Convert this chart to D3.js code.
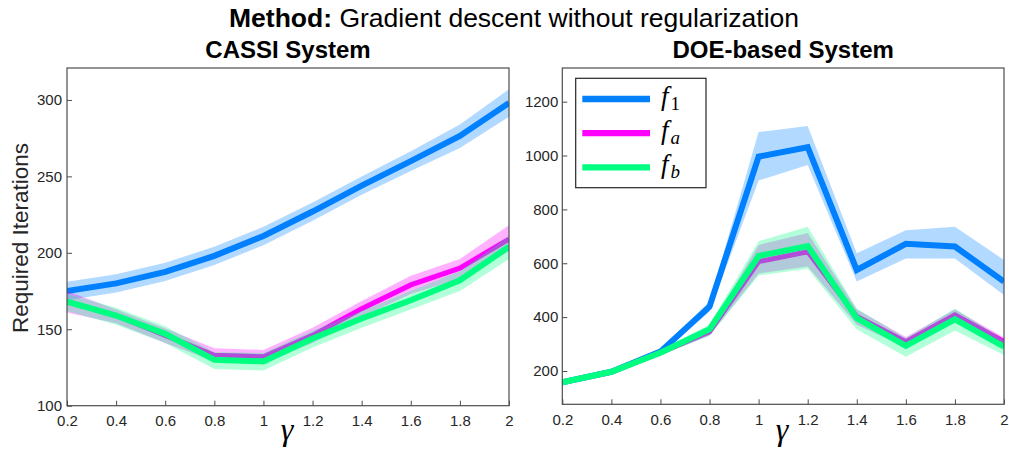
<!DOCTYPE html>
<html>
<head>
<meta charset="utf-8">
<script src="https://cdn.jsdelivr.net/npm/d3@7"></script>
<style>
  html, body { margin: 0; padding: 0; background: #fff; }
  svg { display: block; }
  text { font-family: "Liberation Sans", Arial, sans-serif; }
</style>
</head>
<body>
<svg id="chart" width="1009" height="449"></svg>
<script>
// γ values shared by both panels
const gammaValues = [0.2, 0.4, 0.6, 0.8, 1.0, 1.2, 1.4, 1.6, 1.8, 2.0];
const xTickLabels = ["0.2", "0.4", "0.6", "0.8", "1", "1.2", "1.4", "1.6", "1.8", "2"];

// CASSI system: mean iterations and min/max envelope
const cassiF1Mean = [175, 180, 187.5, 198, 211, 227, 244, 260, 276.5, 298];
const cassiF1Low  = [169, 174, 181.5, 192, 205, 221, 238, 253.5, 268.5, 289];
const cassiF1High = [181, 186, 193.5, 204, 217, 233, 250, 266.5, 284, 307];
const cassiFaMean = [168, 159, 146, 133, 132, 146, 163.5, 179, 190, 209];
const cassiFaLow  = [161, 154, 141, 129, 128, 141, 158, 173, 183, 201];
const cassiFaHigh = [175, 163, 150.5, 137.5, 136.5, 151, 168.5, 185, 196, 218];
const cassiFbMean = [168, 159, 147, 130, 129, 144, 157, 169, 182, 204];
const cassiFbLow  = [162, 153, 141, 124, 123, 138, 151, 163, 175, 196];
const cassiFbHigh = [173, 164, 152, 135, 134.5, 149, 162, 175, 188, 211];
const cassiYTicks = [100, 150, 200, 250, 300];

// DOE-based system
const doeF1Mean = [158, 197, 272, 439, 996, 1031, 575, 672, 662, 532];
const doeF1Low  = [148, 187, 262, 420, 907, 965, 532, 618, 618, 482];
const doeF1High = [168, 207, 282, 458, 1087, 1110, 637, 723, 736, 612];
const doeFaMean = [158, 197, 268, 346, 606, 643, 402, 309, 408, 309];
const doeFaLow  = [150, 189, 258, 332, 562, 588, 372, 288, 382, 290];
const doeFaHigh = [166, 205, 278, 360, 668, 712, 428, 326, 428, 324];
const doeFbMean = [158, 197, 268, 355, 627, 664, 396, 293, 392, 290];
const doeFbLow  = [150, 189, 258, 330, 555, 580, 355, 253, 350, 259];
const doeFbHigh = [166, 205, 278, 372, 682, 736, 432, 322, 432, 315];
const doeYTicks = [200, 400, 600, 800, 1000, 1200];

const seriesNames = ["f1", "fa", "fb"];
const seriesColors = { f1: "#0080ff", fa: "#ff00ff", fb: "#00ff80" };
const seriesWidths = { f1: 6, fa: 5, fb: 6 };

const svg = d3.select("#chart");
const axisColor = "#4d4d4d";
const tickTextColor = "#262626";

// Figure title
const title = svg.append("text")
  .attr("x", 514).attr("y", 27)
  .attr("text-anchor", "middle")
  .style("font-size", "26.5px")
  .attr("fill", "#000");
title.append("tspan").style("font-weight", "bold").text("Method:");
title.append("tspan").text(" Gradient descent without regularization");

function drawPanel(cfg) {
  const { left, right, top, bottom, yDomain, yTicks, series, name, clipId, yPad } = cfg;
  const x = d3.scaleLinear().domain([0.2, 2]).range([left, right]);
  const y = d3.scaleLinear().domain(yDomain).range([bottom, top]);
  const g = svg.append("g");

  g.append("clipPath").attr("id", clipId)
    .append("rect").attr("x", left).attr("y", top)
    .attr("width", right - left).attr("height", bottom - top);

  const plot = g.append("g").attr("clip-path", `url(#${clipId})`);

  const area = d3.area()
    .x(d => x(d.g)).y0(d => y(d.lo)).y1(d => y(d.hi));
  const line = d3.line().x(d => x(d.g)).y(d => y(d.m));

  series.forEach(s => {
    const pts = gammaValues.map((gv, i) => ({ g: gv, m: s.mean[i], lo: s.low[i], hi: s.high[i] }));
    plot.append("path").datum(pts)
      .attr("d", area)
      .attr("fill", seriesColors[s.key])
      .attr("fill-opacity", 0.3)
      .attr("stroke", "none");
    plot.append("path").datum(pts)
      .attr("d", line)
      .attr("fill", "none")
      .attr("stroke", seriesColors[s.key])
      .attr("stroke-width", seriesWidths[s.key]);
  });

  // Axes (ticks point inward)
  const xAxis = d3.axisBottom(x).tickValues(gammaValues)
    .tickFormat((d, i) => xTickLabels[i]).tickSize(-5).tickPadding(10);
  const gx = g.append("g").attr("transform", `translate(0,${bottom})`).call(xAxis);
  const yAxis = d3.axisLeft(y).tickValues(yTicks).tickFormat(d3.format("d"))
    .tickSize(-5).tickPadding(yPad);
  const gy = g.append("g").attr("transform", `translate(${left},0)`).call(yAxis);
  [gx, gy].forEach(a => {
    a.select(".domain").remove();
    a.selectAll(".tick line").attr("stroke", axisColor);
    a.selectAll(".tick text")
      .attr("fill", tickTextColor)
      .style("font-size", "15px")
      .style("font-family", "'Liberation Sans', Arial, sans-serif");
  });

  // Box
  g.append("rect")
    .attr("x", left).attr("y", top)
    .attr("width", right - left).attr("height", bottom - top)
    .attr("fill", "none").attr("stroke", axisColor).attr("stroke-width", 1.2);

  // Panel title
  g.append("text")
    .attr("x", (left + right) / 2).attr("y", 58)
    .attr("text-anchor", "middle")
    .style("font-size", "24px").style("font-weight", "bold")
    .text(name);

  // γ axis label
  g.append("text")
    .attr("x", (left + right) / 2 - 1).attr("y", 440)
    .attr("text-anchor", "middle")
    .style("font-family", "'Liberation Serif', 'DejaVu Serif', serif")
    .style("font-style", "italic")
    .style("font-size", "32px")
    .text("γ");

  return { x, y, g };
}

drawPanel({
  left: 67, right: 509, top: 68, bottom: 405.7, yPad: 5,
  yDomain: [100, 320.9], yTicks: cassiYTicks, name: "CASSI System", clipId: "clipCassi",
  series: [
    { key: "f1", mean: cassiF1Mean, low: cassiF1Low, high: cassiF1High },
    { key: "fa", mean: cassiFaMean, low: cassiFaLow, high: cassiFaHigh },
    { key: "fb", mean: cassiFbMean, low: cassiFbLow, high: cassiFbHigh }
  ]
});

drawPanel({
  left: 562.3, right: 1004, top: 68, bottom: 404.3, yPad: 4,
  yDomain: [76.3, 1325], yTicks: doeYTicks, name: "DOE-based System", clipId: "clipDoe",
  series: [
    { key: "f1", mean: doeF1Mean, low: doeF1Low, high: doeF1High },
    { key: "fa", mean: doeFaMean, low: doeFaLow, high: doeFaHigh },
    { key: "fb", mean: doeFbMean, low: doeFbLow, high: doeFbHigh }
  ]
});

// Shared y label
svg.append("text")
  .attr("transform", "translate(28,238) rotate(-90)")
  .attr("text-anchor", "middle")
  .style("font-size", "22.5px")
  .attr("fill", "#262626")
  .text("Required Iterations");

// Legend
const legend = svg.append("g");
legend.append("rect")
  .attr("x", 575.7).attr("y", 78.3).attr("width", 130.3).attr("height", 109.4)
  .attr("fill", "#fff").attr("stroke", "#262626").attr("stroke-width", 1.2);
const legendSubs = { f1: "1", fa: "a", fb: "b" };
seriesNames.forEach((k, i) => {
  const ly = 99 + i * 34.2;
  legend.append("line")
    .attr("x1", 582.3).attr("x2", 650).attr("y1", ly).attr("y2", ly)
    .attr("stroke", seriesColors[k]).attr("stroke-width", 6.3);
  const t = legend.append("text")
    .attr("x", 661).attr("y", ly + 6)
    .style("font-family", "'Liberation Serif', 'DejaVu Serif', serif")
    .style("font-size", "27px");
  t.append("tspan").style("font-style", "italic").text("f");
  t.append("tspan")
    .attr("dx", 2).attr("dy", 5)
    .style("font-size", "19px")
    .style("font-style", k === "f1" ? "normal" : "italic")
    .text(legendSubs[k]);
});
</script>
</body>
</html>
